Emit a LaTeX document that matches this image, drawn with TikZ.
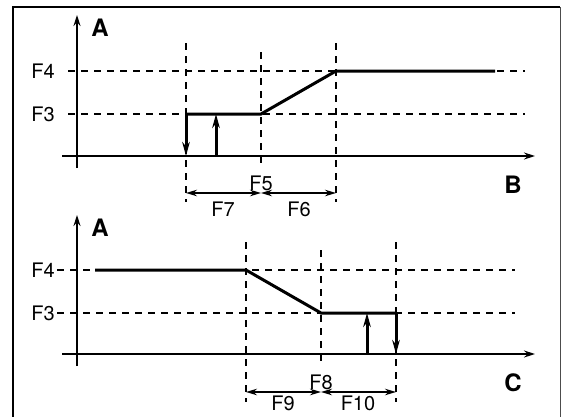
\documentclass[tikz,border=0pt]{standalone}
\usepackage{fontspec}
\setmainfont{TeX Gyre Heros}
\usetikzlibrary{arrows.meta}
\tikzset{
  axis/.style={line width=1.4pt,-{Stealth[length=11pt,width=7pt]}},
  guide/.style={line width=1.4pt,dash pattern=on 7pt off 6pt},
  curve/.style={line width=3pt},
  pulse/.style={line width=3pt,-{Stealth[length=14pt,width=7.5pt]}},
  dimen/.style={line width=1.4pt,{Stealth[length=11pt,width=6.5pt]}-{Stealth[length=11pt,width=6.5pt]}},
  lbl/.style={font=\fontsize{20}{22}\selectfont,inner sep=1pt},
  ttl/.style={font=\fontsize{24}{26}\selectfont\bfseries,inner sep=0pt}
}
\begin{document}
\begin{tikzpicture}[x=1pt,y=-1pt]
\useasboundingbox (0,0) rectangle (563,416);
% frame
\draw[line width=2.6pt] (13,430) -- (13,7) -- (560,7);
\draw[line width=0.9pt,black!70] (560,7) -- (560,430);

% upper panel
\coordinate (ua0) at (77,168);  \coordinate (ua1) at (77,15);
\coordinate (ub0) at (62,156);  \coordinate (ub1) at (535,156);
\node[ttl] (uA) at (100,28) {A};
\node[ttl] (uB) at (513,185) {B};
\node[lbl] (uF4) at (43,71) {F4};
\node[lbl] (uF3) at (43,114) {F3};
\coordinate (u4l) at (68,71);  \coordinate (u4r) at (525,71);
\coordinate (u3l) at (68,114); \coordinate (u3r) at (525,114);
\coordinate (up1) at (186,114); \coordinate (up2) at (261,114);
\coordinate (up3) at (336,71);  \coordinate (up4) at (495,71);
\coordinate (uv1t) at (186,43); \coordinate (uv1b) at (186,202);
\coordinate (uv2t) at (261,52); \coordinate (uv2b) at (261,168);
\coordinate (uv3t) at (336,43); \coordinate (uv3b) at (336,202);
\coordinate (ud1) at (186,193); \coordinate (ud2) at (261,193); \coordinate (ud3) at (336,193);
\coordinate (us0) at (186,156); \coordinate (ur0) at (216,156); \coordinate (ur1) at (216,114);
\draw[guide] (u4l) -- (u4r);
\draw[guide] (u3l) -- (u3r);
\draw[guide] (uv1t) -- (uv1b);
\draw[guide] (uv2t) -- (uv2b);
\draw[guide] (uv3t) -- (uv3b);
\draw[axis] (ua0) -- (ua1);
\draw[axis] (ub0) -- (ub1);
\draw[curve] (up1) -- (up2) -- (up3) -- (up4);
\draw[pulse] (up1) -- (us0);
\draw[pulse] (ur0) -- (ur1);
\draw[dimen] (ud1) -- (ud2);
\draw[dimen] (ud2) -- (ud3);
\node[lbl] (uF5) at (261,183) {F5};
\node[lbl] (uF7) at (223,209) {F7};
\node[lbl] (uF6) at (299,209) {F6};

% lower panel
\coordinate (la0) at (77,366);  \coordinate (la1) at (77,215);
\coordinate (lb0) at (62,354);  \coordinate (lb1) at (535,354);
\node[ttl] (lA) at (100,228) {A};
\node[ttl] (lC) at (513,383) {C};
\node[lbl] (lF4) at (43,270) {F4};
\node[lbl] (lF3) at (43,313) {F3};
\coordinate (l4l) at (57,270);  \coordinate (l4r) at (515,270);
\coordinate (l3l) at (57,313);  \coordinate (l3r) at (515,313);
\coordinate (lp1) at (95,270);  \coordinate (lp2) at (246,270);
\coordinate (lp3) at (321,313); \coordinate (lp4) at (396,313);
\coordinate (lv1t) at (246,242); \coordinate (lv1b) at (246,402);
\coordinate (lv2t) at (321,250); \coordinate (lv2b) at (321,367);
\coordinate (lv3t) at (396,242); \coordinate (lv3b) at (396,402);
\coordinate (ld1) at (246,392); \coordinate (ld2) at (321,392); \coordinate (ld3) at (396,392);
\coordinate (ls0) at (396,354); \coordinate (lr0) at (367,354); \coordinate (lr1) at (367,313);
\draw[guide] (l4l) -- (l4r);
\draw[guide] (l3l) -- (l3r);
\draw[guide] (lv1t) -- (lv1b);
\draw[guide] (lv2t) -- (lv2b);
\draw[guide] (lv3t) -- (lv3b);
\draw[axis] (la0) -- (la1);
\draw[axis] (lb0) -- (lb1);
\draw[curve] (lp1) -- (lp2) -- (lp3) -- (lp4);
\draw[pulse] (lp4) -- (ls0);
\draw[pulse] (lr0) -- (lr1);
\draw[dimen] (ld1) -- (ld2);
\draw[dimen] (ld2) -- (ld3);
\node[lbl] (lF8) at (321,382) {F8};
\node[lbl] (lF9) at (283,403) {F9};
\node[lbl] (lF10) at (358,403) {F10};
\end{tikzpicture}
\end{document}
